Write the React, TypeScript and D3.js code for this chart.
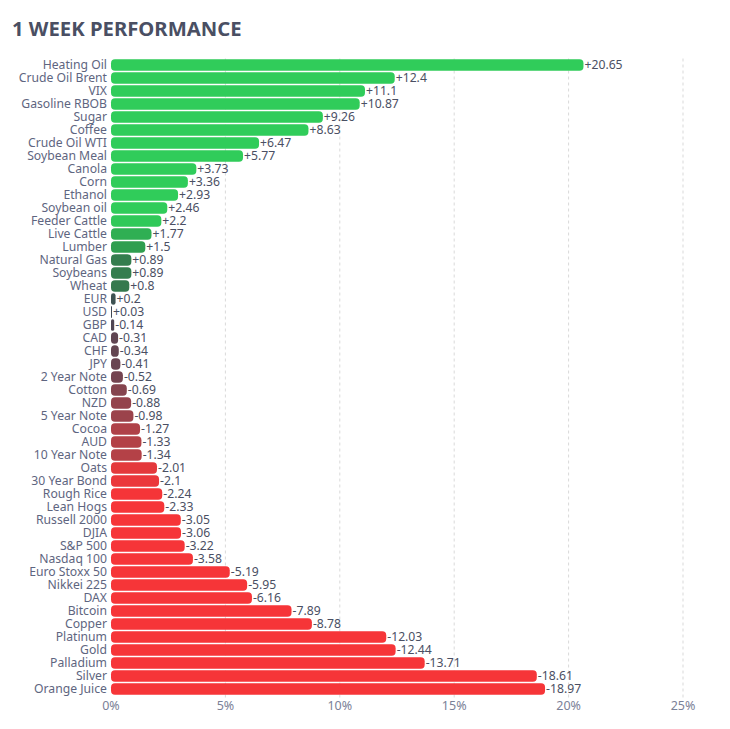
import React, { useRef, useEffect } from 'react';
import * as d3 from 'd3';

const NAMES = [
  'Heating Oil', 'Crude Oil Brent', 'VIX', 'Gasoline RBOB', 'Sugar', 'Coffee', 'Crude Oil WTI',
  'Soybean Meal', 'Canola', 'Corn', 'Ethanol', 'Soybean oil', 'Feeder Cattle', 'Live Cattle',
  'Lumber', 'Natural Gas', 'Soybeans', 'Wheat', 'EUR', 'USD', 'GBP', 'CAD', 'CHF', 'JPY',
  '2 Year Note', 'Cotton', 'NZD', '5 Year Note', 'Cocoa', 'AUD', '10 Year Note', 'Oats',
  '30 Year Bond', 'Rough Rice', 'Lean Hogs', 'Russell 2000', 'DJIA', 'S&P 500', 'Nasdaq 100',
  'Euro Stoxx 50', 'Nikkei 225', 'DAX', 'Bitcoin', 'Copper', 'Platinum', 'Gold', 'Palladium',
  'Silver', 'Orange Juice',
];

const CHANGES = [
  20.65, 12.4, 11.1, 10.87, 9.26, 8.63, 6.47, 5.77, 3.73, 3.36, 2.93, 2.46, 2.2, 1.77,
  1.5, 0.89, 0.89, 0.8, 0.2, 0.03, -0.14, -0.31, -0.34, -0.41, -0.52, -0.69, -0.88, -0.98,
  -1.27, -1.33, -1.34, -2.01, -2.1, -2.24, -2.33, -3.05, -3.06, -3.22, -3.58, -5.19, -5.95,
  -6.16, -7.89, -8.78, -12.03, -12.44, -13.71, -18.61, -18.97,
];

const TICKS = [0, 5, 10, 15, 20, 25];

// red -> neutral -> green ramp keyed on the signed change
const COLOR_STOPS = [-2.25, -1.5, -0.75, 0, 0.75, 1.5, 2.25];
const COLOR_RANGE = ['#f63538', '#bf4045', '#8b444e', '#414554', '#35764e', '#2f9e4f', '#30cc5a'];

const FONT = '"Noto Sans", "Open Sans", sans-serif';

export default function App() {
  const svgRef = useRef<SVGSVGElement | null>(null);

  useEffect(() => {
    const width = 730;
    const height = 729;
    const margin = { top: 58.5, right: 47, bottom: 29, left: 111 };

    const svg = d3.select(svgRef.current).attr('width', width).attr('height', height);
    svg.selectAll('*').remove();

    const data = NAMES.map((name, i) => ({ name, value: CHANGES[i] }));

    const x = d3.scaleLinear().domain([0, 25]).range([margin.left, width - margin.right]);
    const y = d3.scaleBand<string>()
      .domain(NAMES)
      .range([margin.top, margin.top + NAMES.length * 13])
      .paddingInner(0.1)
      .paddingOuter(0.05);

    const color = d3.scaleLinear<string>()
      .domain(COLOR_STOPS)
      .range(COLOR_RANGE)
      .interpolate(d3.interpolateRgb)
      .clamp(true);

    svg.append('text')
      .attr('x', 12)
      .attr('y', 36)
      .attr('font-family', FONT)
      .attr('font-size', 20.3)
      .attr('font-weight', 700)
      .attr('fill', '#4a4f63')
      .text('1 WEEK PERFORMANCE');

    // dashed grid
    svg.append('g')
      .selectAll('line')
      .data(TICKS.slice(1))
      .join('line')
      .attr('x1', d => x(d))
      .attr('x2', d => x(d))
      .attr('y1', margin.top)
      .attr('y2', height - margin.bottom)
      .attr('stroke', '#d9d9d9')
      .attr('stroke-dasharray', '3,3');

    svg.append('g')
      .selectAll('text')
      .data(TICKS)
      .join('text')
      .attr('x', d => x(d))
      .attr('y', height - 19)
      .attr('text-anchor', 'middle')
      .attr('font-family', FONT)
      .attr('font-size', 12.5)
      .attr('fill', '#7b8197')
      .text(d => `${d}%`);

    const rows = svg.append('g')
      .selectAll('g')
      .data(data)
      .join('g')
      .attr('transform', d => `translate(0,${y(d.name)})`);

    const bh = y.bandwidth();

    rows.append('rect')
      .attr('x', x(0))
      .attr('y', 0)
      .attr('width', d => Math.max(1, x(Math.abs(d.value)) - x(0)))
      .attr('height', bh)
      .attr('rx', d => Math.min(4, (x(Math.abs(d.value)) - x(0)) / 2))
      .attr('fill', d => color(d.value));

    rows.append('text')
      .attr('x', margin.left - 4)
      .attr('y', bh / 2)
      .attr('dy', '0.35em')
      .attr('text-anchor', 'end')
      .attr('font-family', FONT)
      .attr('font-size', 12.2)
      .attr('fill', '#5e6580')
      .text(d => d.name);

    rows.append('text')
      .attr('x', d => Math.max(x(Math.abs(d.value)), x(0) + 1) + 1)
      .attr('y', bh / 2)
      .attr('dy', '0.35em')
      .attr('font-family', FONT)
      .attr('font-size', 12.2)
      .attr('fill', '#4a4f63')
      .text(d => (d.value > 0 ? `+${d.value}` : `${d.value}`));
  }, []);

  return (
    <div style={{ position: 'absolute', left: 0, top: 0, width: 730, height: 729, background: '#fff' }}>
      <svg ref={svgRef} />
    </div>
  );
}
